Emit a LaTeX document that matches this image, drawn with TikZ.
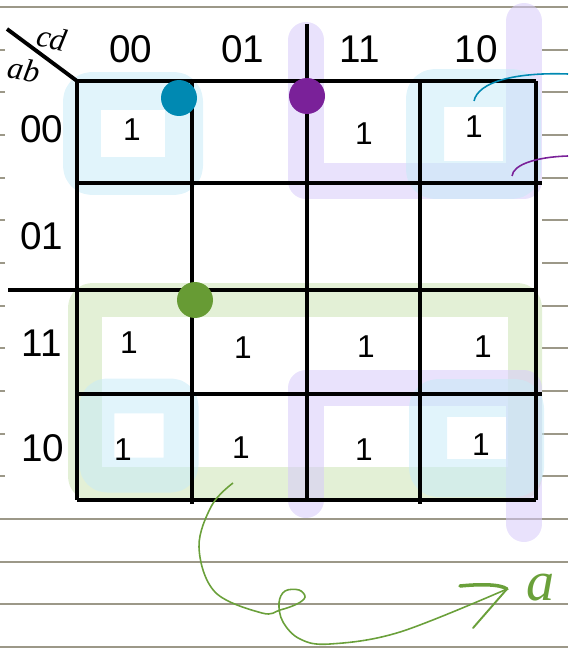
\documentclass[tikz,border=0pt]{standalone}
\usepackage{fontspec}
\setmainfont{Liberation Sans}
\newfontfamily\handfont{Liberation Sans}
\newfontfamily\handit{Liberation Serif}
\usepackage{tikz}

\definecolor{rulegray}{HTML}{9C9888}
\definecolor{hiblue}{HTML}{C8EBF8}
\definecolor{hipurple}{HTML}{D7CAFA}
\definecolor{higreen}{HTML}{CCE4B4}
\definecolor{dotteal}{HTML}{0089B2}
\definecolor{dotpurple}{HTML}{7A2199}
\definecolor{dotgreen}{HTML}{679B34}
\definecolor{greenink}{HTML}{6AA03A}

\tikzset{
  ruling/.style={line width=1.1pt, rulegray},
  gridline/.style={line width=2.2pt, black},
  ringblue/.style={draw=hiblue, draw opacity=0.55, line width=0.76cm, line join=round, rounded corners=0.2cm},
  bandpurple/.style={draw=hipurple, draw opacity=0.55, line width=0.72cm, line cap=round, line join=round},
  ringgreen/.style={draw=higreen, draw opacity=0.55, line width=0.68cm, line join=round, rounded corners=0.15cm},
  headlabel/.style={font=\fontsize{22}{26}\selectfont, inner sep=0pt},
  onecell/.style={font=\handfont\fontsize{18}{20}\selectfont, inner sep=0pt},
  handtext/.style={font=\handit\itshape\fontsize{18}{22}\selectfont, inner sep=0pt},
  dotbig/.style={circle, minimum size=0.72cm, inner sep=0pt}
}

\begin{document}
\begin{tikzpicture}[x=0.02cm, y=-0.02cm]
\useasboundingbox (0,0) rectangle (568,648);

% ruled paper
\foreach \k in {0,12,13,14,15}
  \draw[ruling] (0,7+42.67*\k) -- (568,7+42.67*\k);
\foreach \k in {1,...,11} {
  \draw[ruling] (0,7+42.67*\k) -- (5,7+42.67*\k);
  \draw[ruling] (542,7+42.67*\k) -- (568,7+42.67*\k);
}

% highlighter groups
\draw[ringgreen] (85,300) rectangle (525,484);
\draw[bandpurple] (306,40) -- (306,181) -- (524,181) -- (524,21);
\draw[bandpurple] (306,500) -- (306,388) -- (524,388) -- (524,524);
\draw[ringblue] (82,91) rectangle (184,176);
\draw[ringblue] (425,88) rectangle (522,180);
\draw[ringblue, line width=0.7cm] (97,396) rectangle (181,475);
\draw[ringblue] (428,398) rectangle (525,478);

% k-map grid
\draw[gridline] (7,29) -- (77,81);
\draw[gridline] (77,81) -- (536,81);
\draw[gridline] (77,183) -- (542,183);
\draw[gridline] (8,290) -- (536,290);
\draw[gridline] (77,394) -- (542,394);
\draw[gridline] (77,500) -- (536,500);
\draw[gridline] (77,81) -- (77,500);
\draw[gridline] (192,81) -- (192,504);
\draw[gridline] (307,24) -- (307,502);
\draw[gridline] (420,81) -- (420,504);
\draw[gridline] (536,81) -- (536,500);

% corner labels
\node[handtext, rotate=-12] (cdlab) at (52,38) {cd};
\node[handtext, rotate=-10] (ablab) at (24,70) {ab};

% column and row labels
\node[headlabel] (c00) at (131,49) {00};
\node[headlabel] (c01) at (243,49) {01};
\node[headlabel] (c11) at (360,49) {11};
\node[headlabel] (c10) at (476,49) {10};
\node[headlabel] (r00) at (42,129) {00};
\node[headlabel] (r01) at (42,236) {01};
\node[headlabel] (r11) at (42,343) {11};
\node[headlabel] (r10) at (43,448) {10};

% ones
\foreach \x/\y/\n in {132/130/a, 364/134/b, 474/127/c, 129/343/d, 243/348/e,
                      366/347/f, 483/347/g, 123/450/h, 241/448/i, 364/450/j, 481/445/k}
  \node[onecell] (one\n) at (\x,\y) {1};

% implicant dots
\node[dotbig, fill=dotteal] (dotb) at (179,98) {};
\node[dotbig, fill=dotpurple] (dotp) at (307,96) {};
\node[dotbig, fill=dotgreen] (dotg) at (195,300) {};

% pointer strokes
\coordinate (tealin) at (474,101);
\coordinate (tealout) at (568,74);
\coordinate (purpin) at (512,176);
\coordinate (purpout) at (568,156);
\draw[dotteal, line width=0.9pt] (tealin) .. controls (478,82) and (515,72) .. (tealout);
\draw[dotpurple, line width=0.9pt] (purpin) .. controls (513,165) and (535,157) .. (purpout);

% green arrow to a
\coordinate (gstart) at (233,483);
\coordinate (gtip) at (507,589);
\node[handtext, text=greenink, font=\handit\itshape\fontsize{32}{36}\selectfont] (alab) at (541,588) {a};
\draw[greenink, line width=0.9pt] plot[smooth, tension=0.6] coordinates {
  (gstart) (212,505) (199,547) (215,592) (262,613) (280,610) (297,604) (305,597)
  (299,590) (285,591) (279,603) (283,622) (300,639) (330,644) (400,632) (gtip)};
\draw[greenink, line width=2pt, line cap=round] (460,586) .. controls (480,584) and (500,584) .. (gtip);
\draw[greenink, line width=1.1pt, line cap=round] (gtip) -- (473,628);
\end{tikzpicture}
\end{document}
